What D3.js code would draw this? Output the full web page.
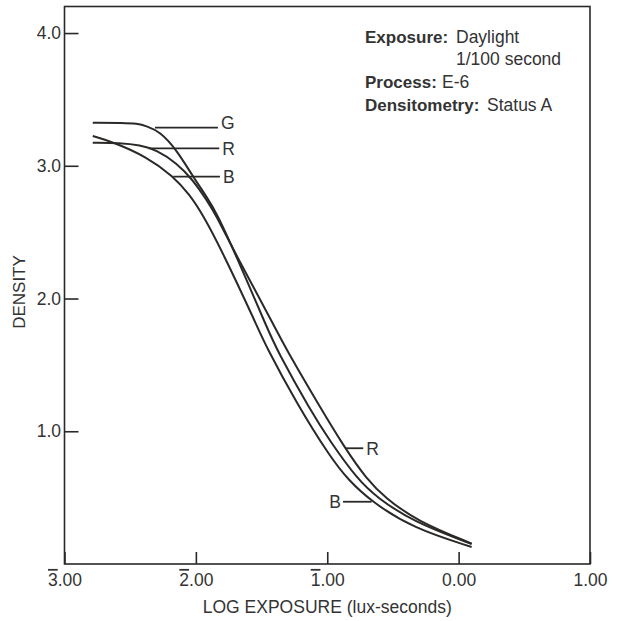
<!DOCTYPE html>
<html>
<head>
<meta charset="utf-8">
<script src="https://cdn.jsdelivr.net/npm/d3@7"></script>
<style>
  body { margin: 0; background: #fff; }
  text { font-family: "Liberation Sans", Arial, sans-serif; fill: #333; }
</style>
</head>
<body>
<div id="chart"></div>
<script>
// log exposure / density
var xTicks = [-3, -2, -1, 0, 1];
var yTicks = [1, 2, 3, 4];

var logE_G = [-2.785, -2.55, -2.45, -2.374, -2.273, -2.146, -2.022, -1.918, -1.842, -1.702, -1.451, -1.383, -1.13, -0.979, -0.766, -0.62, -0.348, 0.099];
var dens_G = [3.324, 3.324, 3.318, 3.299, 3.257, 3.119, 2.918, 2.767, 2.644, 2.343, 1.763, 1.612, 1.160, 0.925, 0.633, 0.500, 0.319, 0.151];

var logE_R = [-2.785, -2.578, -2.425, -2.298, -2.146, -2.022, -1.918, -1.855, -1.702, -1.387, -1.309, -1.060, -0.865, -0.700, -0.560, -0.320, 0.099];
var dens_R = [3.174, 3.172, 3.156, 3.119, 3.021, 2.893, 2.742, 2.644, 2.343, 1.763, 1.612, 1.190, 0.872, 0.640, 0.500, 0.325, 0.154];

var logE_B = [-2.785, -2.631, -2.374, -2.174, -2.045, -1.946, -1.804, -1.537, -1.474, -1.233, -0.979, -0.840, -0.662, -0.348, 0.099];
var dens_B = [3.224, 3.179, 3.068, 2.923, 2.780, 2.629, 2.365, 1.800, 1.655, 1.210, 0.808, 0.633, 0.469, 0.270, 0.128];

// curve labels: name, leader start, leader end, leader height (data units)
var labelNames = ["G", "R", "B", "R", "B"];
var labelX0 = [-2.311, -2.362, -2.172, -0.865, -0.880];
var labelX1 = [-1.832, -1.822, -1.817, -0.726, -0.662];
var labelY = [3.287, 3.131, 2.918, 0.872, 0.469];

var width = 618, height = 621;
var margin = {top: 6.5, left: 64.5, right: 28, bottom: 57};

var svg = d3.select("#chart")
    .append("svg")
    .attr("width", width)
    .attr("height", height);

var x = d3.scaleLinear()
    .domain([-3, 1])
    .range([margin.left, width - margin.right]);

var y = d3.scaleLinear()
    .domain([0, 4.2])
    .range([height - margin.bottom, margin.top]);

var ink = "#2b2927";

// frame
svg.append("rect")
    .attr("x", x(-3))
    .attr("y", y(4.2))
    .attr("width", x(1) - x(-3))
    .attr("height", y(0) - y(4.2))
    .style("fill", "none")
    .style("stroke", ink)
    .style("stroke-width", 1.6);

// X axis, ticks pointing in
var xAxis = svg.append("g")
    .attr("transform", "translate(0," + y(0) + ")")
    .call(d3.axisBottom(x).tickValues(xTicks).tickSize(-12).tickPadding(9.5));

xAxis.select(".domain").remove();
xAxis.selectAll("line").style("stroke", ink).style("stroke-width", 1.6);
xAxis.selectAll("text")
    .style("font-size", "17.5px")
    .style("font-family", "'Liberation Sans', Arial, sans-serif")
    .style("fill", "#333")
    .text("")
    .each(function(d) {
        var t = d3.select(this);
        if (d < 0) {
            t.append("tspan").style("text-decoration", "overline").text(Math.abs(d));
            t.append("tspan").text(".00");
        } else {
            t.text(d.toFixed(2));
        }
    });

// Y axis
var yAxis = svg.append("g")
    .attr("transform", "translate(" + x(-3) + ",0)")
    .call(d3.axisLeft(y).tickValues(yTicks).tickSize(-14).tickPadding(3.5).tickFormat(d3.format(".1f")));

yAxis.select(".domain").remove();
yAxis.selectAll("line").style("stroke", ink).style("stroke-width", 1.6);
yAxis.selectAll("text")
    .style("font-size", "17.5px")
    .style("font-family", "'Liberation Sans', Arial, sans-serif")
    .style("fill", "#333");

// curves
var line = d3.line()
    .x(function(d) { return x(d[0]); })
    .y(function(d) { return y(d[1]); })
    .curve(d3.curveBasis);

var series = [
    d3.zip(logE_G, dens_G),
    d3.zip(logE_R, dens_R),
    d3.zip(logE_B, dens_B)
];

svg.selectAll("path.curve")
    .data(series)
    .enter()
    .append("path")
    .attr("class", "curve")
    .attr("d", line)
    .style("fill", "none")
    .style("stroke", ink)
    .style("stroke-width", 2);

// leaders and letters
labelNames.forEach(function(name, i) {
    svg.append("line")
        .attr("x1", x(labelX0[i]))
        .attr("x2", x(labelX1[i]))
        .attr("y1", y(labelY[i]))
        .attr("y2", y(labelY[i]))
        .style("stroke", ink)
        .style("stroke-width", 1.8);

    var leftSide = i == 4;
    svg.append("text")
        .attr("x", leftSide ? x(labelX0[i]) - 2 : x(labelX1[i]) + 3)
        .attr("y", y(labelY[i]))
        .attr("dy", i == 0 ? "0.08em" : "0.36em")
        .attr("text-anchor", leftSide ? "end" : "start")
        .style("font-size", "17.5px")
        .text(name);
});

// axis titles
svg.append("text")
    .attr("x", x(-1))
    .attr("y", 613)
    .attr("text-anchor", "middle")
    .style("font-size", "17.5px")
    .text("LOG EXPOSURE (lux-seconds)");

svg.append("text")
    .attr("transform", "translate(25,292) rotate(-90)")
    .attr("text-anchor", "middle")
    .style("font-size", "17px")
    .text("DENSITY");

// conditions note
var note = svg.append("g").style("font-size", "17.5px");

note.append("text").attr("x", 365).attr("y", 42.5)
    .style("font-weight", "bold").style("font-size", "17px").text("Exposure:");
note.append("text").attr("x", 456).attr("y", 42.5).text("Daylight");
note.append("text").attr("x", 456).attr("y", 65).text("1/100 second");
note.append("text").attr("x", 365).attr("y", 88)
    .style("font-weight", "bold").style("font-size", "17px").text("Process:");
note.append("text").attr("x", 442).attr("y", 88).text("E-6");
note.append("text").attr("x", 365).attr("y", 110.5)
    .style("font-weight", "bold").style("font-size", "17px").text("Densitometry:");
note.append("text").attr("x", 487).attr("y", 110.5).text("Status A");
</script>
</body>
</html>
